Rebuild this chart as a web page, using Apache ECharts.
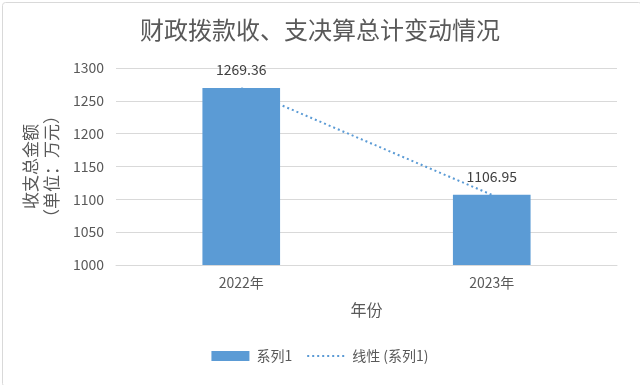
<!DOCTYPE html>
<html><head><meta charset="utf-8">
<script src="https://cdn.jsdelivr.net/npm/echarts@6/dist/echarts.min.js"></script>
<style>html,body{margin:0;padding:0;background:#fff}#c{width:640px;height:385px}</style>
</head><body><div id="c"></div>
<script>
const categories = ['2022年', '2023年'];
const values = [1269.36, 1106.95];
const trendValues = [1269.36, 1106.95];
const yTicks = [1000, 1050, 1100, 1150, 1200, 1250, 1300];

const FONT = '"Noto Sans CJK SC", "Microsoft YaHei", sans-serif';
const chart = echarts.init(document.getElementById('c'), null, {renderer: 'canvas'});
chart.setOption({
  animation: false,
  textStyle: {fontFamily: FONT},
  title: {
    text: '财政拨款收、支决算总计变动情况',
    left: 'center', top: 13,
    textStyle: {fontSize: 24, fontWeight: 'normal', color: '#595959', fontFamily: FONT}
  },
  graphic: [{
    type: 'rect', left: 0, top: 0, silent: true,
    shape: {x: 0.5, y: 0.5, width: 639, height: 384, r: 3},
    style: {fill: 'none', stroke: '#d9d9d9', lineWidth: 1}
  }],
  legend: {
    bottom: 17, left: 'center',
    itemWidth: 38, itemHeight: 10, itemGap: 14,
    textStyle: {fontSize: 14, color: '#595959', fontFamily: FONT, padding: [0, 0, 0, 2]},
    data: [
      {name: '系列1', icon: 'rect'},
      {name: '线性 (系列1)', itemStyle: {opacity: 0}}
    ]
  },
  grid: {left: 116, right: 23, top: 68, bottom: 120},
  xAxis: {
    type: 'category', data: categories,
    axisLine: {lineStyle: {color: '#d9d9d9'}},
    axisTick: {show: false},
    axisLabel: {color: '#595959', fontSize: 14, margin: 11},
    name: '年份', nameLocation: 'middle', nameGap: 37,
    nameTextStyle: {color: '#595959', fontSize: 16}
  },
  yAxis: {
    type: 'value', min: yTicks[0], max: yTicks[yTicks.length - 1], interval: 50,
    axisLine: {show: false}, axisTick: {show: false},
    axisLabel: {color: '#595959', fontSize: 14, margin: 12, formatter: v => String(v)},
    splitLine: {lineStyle: {color: '#d9d9d9'}},
    name: '收支总金额\n（单位：万元）', nameLocation: 'middle', nameRotate: 90, nameGap: 44,
    nameTextStyle: {color: '#595959', fontSize: 17, lineHeight: 21}
  },
  series: [
    {
      name: '线性 (系列1)', type: 'line', data: trendValues, z: 1,
      symbol: 'none', showSymbol: false,
      lineStyle: {color: '#5B9BD5', width: 2, type: [2, 3]},
      itemStyle: {color: '#5B9BD5'}
    },
    {
      name: '系列1', type: 'bar', data: values, barWidth: '31%', z: 2,
      itemStyle: {color: '#5B9BD5'},
      label: {show: true, position: 'top', distance: 11, color: '#404040', fontSize: 14}
    }
  ]
});
</script></body></html>
